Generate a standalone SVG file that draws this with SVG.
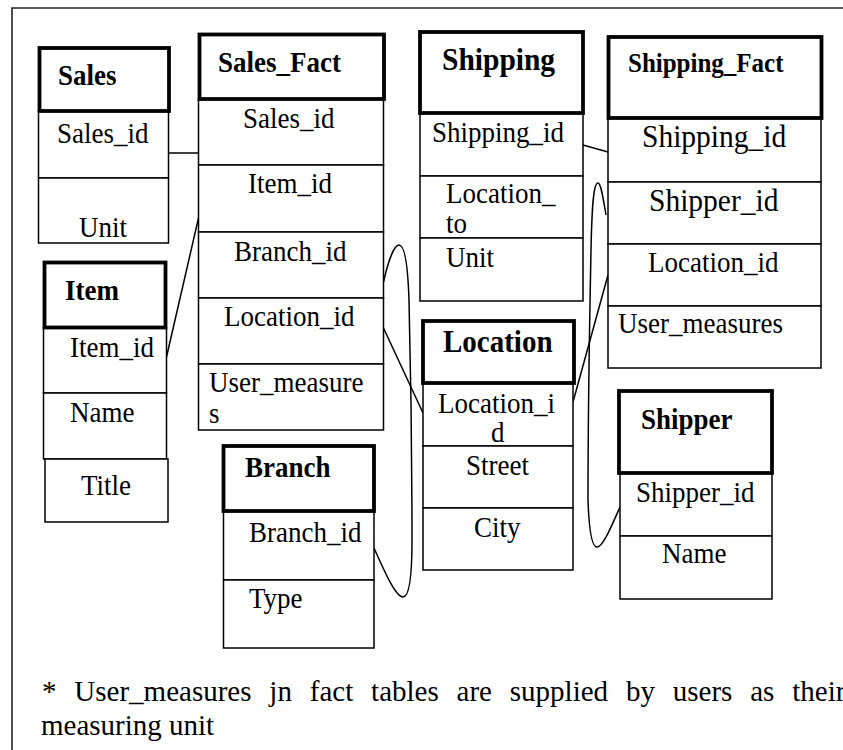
<svg xmlns="http://www.w3.org/2000/svg" width="843" height="750" viewBox="0 0 843 750">
<style>
  .hd { fill: #fff; stroke: #000; stroke-width: 3.8; }
  .row { fill: #fff; stroke: #000; stroke-width: 1.5; }
  .t { font-family: "Liberation Serif", "Times New Roman", serif; font-size: 27px; fill: #000; }
  .b { font-family: "Liberation Serif", "Times New Roman", serif; font-size: 27px; font-weight: bold; fill: #000; }
  .t, .b { transform-box: fill-box; transform-origin: 0 100%; transform: scaleY(1.08); }
  .c { fill: none; stroke: #000; stroke-width: 1.5; }
  .frame { fill: none; stroke: #222; stroke-width: 1.6; }
  .note { font-family: "Liberation Serif", "Times New Roman", serif; font-size: 29px; fill: #000; }
</style>
<rect x="0" y="0" width="843" height="750" fill="#fff"/>
<path class="frame" d="M12,750 V8 H843"/>

<g id="connectors">
  <path class="c" d="M168.5,153 H198.5"/>
  <path class="c" d="M166.5,357 L198.5,218"/>
  <path class="c" d="M383.5,282 C388,262 394,245 399,245 C405,245 408,270 409,300 C411,380 412,480 412,540 C412,580 409,597 403,597 C396,597 386,575 374,548"/>
  <path class="c" d="M383.5,328 L423,413"/>
  <path class="c" d="M583,145 L608,152"/>
  <path class="c" d="M573,402 L608,275"/>
  <path class="c" d="M606,215 C603,198 601,183 598,183 C594,183 592,200 591,250 C589,350 588,450 588,500 C589,530 592,547 597,547 C603,547 612,525 620,507"/>
</g>

<g id="sales">
  <rect class="row" x="38.5" y="111" width="130" height="67"/>
  <rect class="row" x="38.5" y="178" width="130" height="65"/>
  <rect class="hd" x="39.5" y="48" width="129.5" height="63"/>
  <text class="b" x="58" y="85">Sales</text>
  <text class="t" x="57" y="143">Sales_id</text>
  <text class="t" x="79" y="237">Unit</text>
</g>

<g id="sales_fact">
  <rect class="row" x="198.5" y="99" width="185" height="66"/>
  <rect class="row" x="198.5" y="165" width="185" height="67"/>
  <rect class="row" x="198.5" y="232" width="185" height="66"/>
  <rect class="row" x="198.5" y="298" width="185" height="66"/>
  <rect class="row" x="198.5" y="364" width="185" height="66"/>
  <rect class="hd" x="199.5" y="34.5" width="184.5" height="64.5"/>
  <text class="b" x="218" y="72">Sales_Fact</text>
  <text class="t" x="243" y="128">Sales_id</text>
  <text class="t" x="248" y="193">Item_id</text>
  <text class="t" x="234" y="261">Branch_id</text>
  <text class="t" x="224" y="326">Location_id</text>
  <text class="t" x="209" y="392">User_measure</text>
  <text class="t" x="209" y="423">s</text>
</g>

<g id="item">
  <rect class="row" x="43.5" y="327.5" width="123" height="65.5"/>
  <rect class="row" x="43.5" y="393" width="123" height="66"/>
  <rect class="row" x="45" y="459" width="123" height="63"/>
  <rect class="hd" x="44.5" y="262.5" width="121" height="65"/>
  <text class="b" x="65" y="300">Item</text>
  <text class="t" x="70" y="357">Item_id</text>
  <text class="t" x="70" y="422">Name</text>
  <text class="t" x="81" y="495">Title</text>
</g>

<g id="branch">
  <rect class="row" x="223.5" y="511" width="150.5" height="69"/>
  <rect class="row" x="223.5" y="580" width="150.5" height="68"/>
  <rect class="hd" x="223.5" y="446" width="150.5" height="65"/>
  <text class="b" x="245" y="477">Branch</text>
  <text class="t" x="249" y="542">Branch_id</text>
  <text class="t" x="249" y="608">Type</text>
</g>

<g id="shipping">
  <rect class="row" x="420" y="113" width="163" height="63"/>
  <rect class="row" x="420" y="176" width="163" height="62"/>
  <rect class="row" x="420" y="238" width="163" height="63"/>
  <rect class="hd" x="420" y="32" width="163" height="81"/>
  <text class="b" x="442" y="71" style="font-size:29.5px">Shipping</text>
  <text class="t" x="432" y="142">Shipping_id</text>
  <text class="t" x="446" y="203">Location_</text>
  <text class="t" x="446" y="233">to</text>
  <text class="t" x="446" y="267">Unit</text>
</g>

<g id="shipping_fact">
  <rect class="row" x="608" y="118" width="213" height="64"/>
  <rect class="row" x="608" y="182" width="213" height="62"/>
  <rect class="row" x="608" y="244" width="213" height="62"/>
  <rect class="row" x="608" y="306" width="213" height="62"/>
  <rect class="hd" x="608.5" y="37" width="213" height="81"/>
  <text class="b" x="628" y="72" style="font-size:25px">Shipping_Fact</text>
  <text class="t" x="642" y="148" style="font-size:29.5px">Shipping_id</text>
  <text class="t" x="649" y="212" style="font-size:29.5px">Shipper_id</text>
  <text class="t" x="648" y="272">Location_id</text>
  <text class="t" x="618" y="333">User_measures</text>
</g>

<g id="location">
  <rect class="row" x="423" y="383" width="150" height="63"/>
  <rect class="row" x="423" y="446" width="150" height="62"/>
  <rect class="row" x="423" y="508" width="150" height="62"/>
  <rect class="hd" x="423" y="321" width="151" height="62"/>
  <text class="b" x="443" y="353" style="font-size:29px">Location</text>
  <text class="t" x="438" y="413">Location_i</text>
  <text class="t" x="491" y="442">d</text>
  <text class="t" x="466" y="475">Street</text>
  <text class="t" x="474" y="537">City</text>
</g>

<g id="shipper">
  <rect class="row" x="620" y="473" width="152" height="63"/>
  <rect class="row" x="620" y="536" width="152" height="63"/>
  <rect class="hd" x="619" y="391" width="153" height="82"/>
  <text class="b" x="641" y="429">Shipper</text>
  <text class="t" x="636" y="502">Shipper_id</text>
  <text class="t" x="662" y="563">Name</text>
</g>

<g id="note">
  <text class="note" x="42" y="701" word-spacing="10.6">* User_measures jn fact tables are supplied by users as their</text>
  <text class="note" x="41" y="735">measuring unit</text>
</g>
</svg>
